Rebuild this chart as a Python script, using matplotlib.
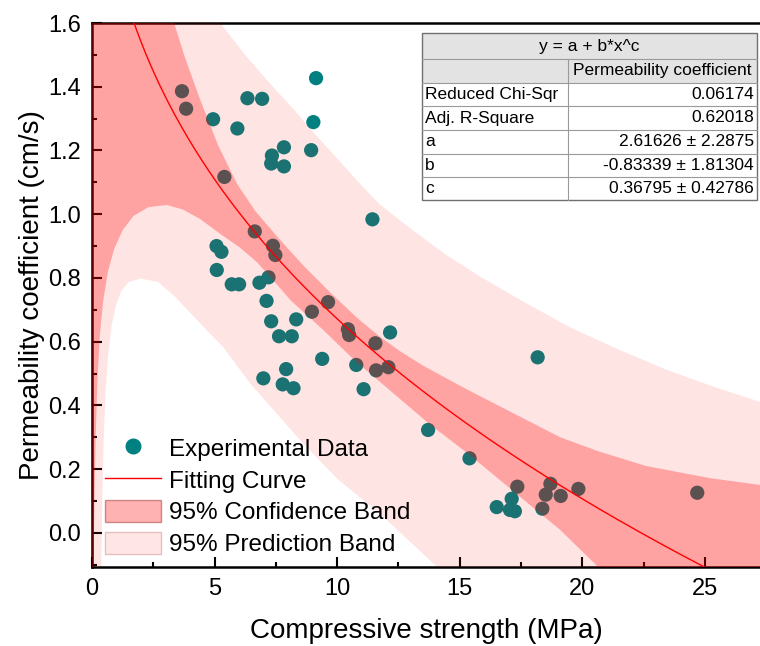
import numpy as np
import matplotlib
matplotlib.use("Agg")
import matplotlib.pyplot as plt
from matplotlib.patches import Patch, Rectangle
from matplotlib.lines import Line2D

plt.rcParams['font.family'] = ['Liberation Sans', 'DejaVu Sans']

# measured points (compressive strength MPa, permeability cm/s)
strength = [3.67, 3.84, 4.94, 6.34, 6.94, 9.14, 9.03, 5.93, 7.83, 7.34, 7.31, 7.83, 8.94,
            5.40, 11.44, 6.64, 7.38, 7.48, 5.08, 5.28, 5.09, 5.70, 6.00, 6.83, 7.20, 7.12,
            9.63, 8.97, 7.31, 8.33, 10.44, 10.49, 7.63, 8.15, 11.56, 9.39, 10.78, 7.92,
            6.99, 7.78, 8.22, 11.08, 11.59, 12.09, 12.16, 18.18, 13.71, 15.40, 17.35,
            18.70, 18.51, 19.12, 19.84, 18.37, 16.51, 17.12, 17.05, 17.25, 24.69]
perm = [1.386, 1.331, 1.298, 1.364, 1.362, 1.427, 1.289, 1.269, 1.210, 1.184, 1.159, 1.150, 1.201,
        1.117, 0.984, 0.946, 0.901, 0.872, 0.900, 0.882, 0.825, 0.780, 0.780, 0.785, 0.802, 0.728,
        0.724, 0.694, 0.664, 0.670, 0.639, 0.621, 0.617, 0.617, 0.595, 0.546, 0.527, 0.514,
        0.485, 0.466, 0.454, 0.451, 0.510, 0.520, 0.629, 0.551, 0.323, 0.234, 0.145,
        0.154, 0.120, 0.116, 0.138, 0.076, 0.081, 0.107, 0.072, 0.068, 0.126]

# fit parameters from the table
a, b, c = 2.61626, -0.83339, 0.36795

# band edges
conf_hi_x = [0.0, 2.0, 3.35, 3.8, 4.41, 5.15, 5.92, 6.66, 7.55, 8.61, 9.71, 10.81, 11.75,
             12.57, 13.5, 15.3, 17.2, 19.1, 20.7, 22.6, 25.2, 27.3]
conf_hi_y = [3.0, 2.0, 1.60, 1.49, 1.36, 1.215, 1.095, 1.01, 0.93, 0.84, 0.755, 0.675, 0.615,
             0.57, 0.525, 0.45, 0.375, 0.30, 0.255, 0.21, 0.172, 0.15]
conf_lo_x = [0.06, 0.10, 0.15, 0.22, 0.32, 0.46, 0.65, 0.9, 1.25, 1.7, 2.3, 3.05, 3.7, 4.41,
             5.2, 6.04, 6.72, 7.2, 8.1, 9.43, 10.8, 11.35, 12.57, 13.71, 15.4, 17.2, 19.09,
             20.65, 24.0, 27.3]
conf_lo_y = [-0.107, 0.1, 0.3, 0.48, 0.62, 0.73, 0.82, 0.89, 0.95, 0.995, 1.022, 1.029, 1.015,
             0.985, 0.94, 0.895, 0.85, 0.81, 0.73, 0.637, 0.535, 0.50, 0.42, 0.345, 0.245, 0.13,
             0.01, -0.107, -0.35, -0.6]
pred_hi_x = [0.0, 3.5, 5.23, 6.25, 7.2, 8.22, 9.0, 10.12, 11.0, 11.75, 13.0, 14.4, 15.8, 17.5,
             19.5, 21.5, 23.5, 25.5, 27.3]
pred_hi_y = [3.0, 1.9, 1.60, 1.50, 1.415, 1.33, 1.26, 1.165, 1.09, 1.03, 0.955, 0.875, 0.806, 0.73,
             0.645, 0.575, 0.51, 0.455, 0.41]
pred_lo_x = [0.36, 0.38, 0.42, 0.48, 0.56, 0.66, 0.8, 0.98, 1.2, 1.5, 2.0, 2.7, 3.4, 4.69, 5.35,
             6.45, 8.5, 10.0, 11.75, 14.08, 16.0, 27.3]
pred_lo_y = [-0.3, -0.107, 0.1, 0.3, 0.45, 0.56, 0.65, 0.715, 0.76, 0.787, 0.798, 0.787, 0.74,
             0.635, 0.583, 0.469, 0.29, 0.17, 0.06, -0.107, -0.25, -1.0]

teal = '#008080'

fig = plt.figure(figsize=(7.6, 6.46), dpi=100)
ax = fig.add_axes([92/760, 1-567/646, 668/760, 544/646])

ax.scatter(strength, perm, s=105, color=teal, edgecolors='none', zorder=2)

# prediction band
px = pred_hi_x + pred_lo_x[::-1] + [0.0]
py = pred_hi_y + pred_lo_y[::-1] + [-0.5]
ax.fill(px, py, color='red', alpha=0.105, lw=0, zorder=3)
# confidence band
cx = conf_hi_x + conf_lo_x[::-1] + [0.0]
cy = conf_hi_y + conf_lo_y[::-1] + [-0.5]
ax.fill(cx, cy, color='red', alpha=0.285, lw=0, zorder=3.1)

xf = np.linspace(0.05, 27.3, 400)
ax.plot(xf, a + b*xf**c, color='red', lw=1, zorder=4)

ax.set_xlim(0, 27.25)
ax.set_ylim(-0.107, 1.6)
ax.set_xticks([0, 5, 10, 15, 20, 25])
ax.set_xticks(np.arange(2.5, 27.3, 5), minor=True)
ax.set_yticks(np.arange(0, 1.61, 0.2))
ax.set_yticks([-0.1, 0.1, 0.3, 0.5, 0.7, 0.9, 1.1, 1.3, 1.5], minor=True)
ax.set_yticklabels(['%.1f' % v for v in np.arange(0, 1.61, 0.2)])
ax.tick_params(which='both', direction='in', width=1.5, labelsize=17, pad=8)
ax.tick_params(which='major', length=7)
ax.tick_params(which='minor', length=3.6)
ax.spines['right'].set_visible(False)
for s in ['left', 'bottom', 'top']:
    ax.spines[s].set_linewidth(1.8)

ax.set_xlabel('Compressive strength (MPa)', fontsize=20, labelpad=13)
ax.set_ylabel('Permeability coefficient (cm/s)', fontsize=20, labelpad=2)

handles = [Line2D([], [], marker='o', color=teal, ls='none', markersize=10.5),
           Line2D([], [], color='red', lw=1),
           Patch(facecolor=(1, 0, 0, 0.3), edgecolor=(0.6, 0.2, 0.2, 0.5)),
           Patch(facecolor=(1, 0, 0, 0.1), edgecolor=(0.9, 0.75, 0.75))]
labels = ['Experimental Data', 'Fitting Curve', '95% Confidence Band', '95% Prediction Band']
ax.legend(handles, labels, loc='lower left', bbox_to_anchor=(0.012, 0.011), frameon=False,
          fontsize=17.5, borderpad=0.2, borderaxespad=0, handlelength=2.3, handleheight=1.0,
          handletextpad=0.35, labelspacing=0.31, numpoints=1)

# fit summary table
tab_title = 'y = a + b*x^c'
tab_head = 'Permeability coefficient'
tab_rows = ['Reduced Chi-Sqr', 'Adj. R-Square', 'a', 'b', 'c']
tab_vals = ['0.06174', '0.62018', '2.61626 ± 2.2875', '-0.83339 ± 1.81304', '0.36795 ± 0.42786']

tb = fig.add_axes([0, 0, 1, 1], zorder=10)
tb.set_xlim(0, 760)
tb.set_ylim(646, 0)
tb.axis('off')
x0, xm, x1 = 422, 568, 757
rows_y = [33, 59, 83, 106, 130, 154, 177, 200]
grey = '#e3e3e3'
line = '#9a9a9a'
tb.add_patch(Rectangle((x0, rows_y[0]), x1-x0, rows_y[2]-rows_y[0], facecolor=grey, edgecolor='none'))
tb.add_patch(Rectangle((x0, rows_y[2]), x1-x0, rows_y[-1]-rows_y[2], facecolor='white', edgecolor='none'))
for yy in rows_y[1:-1]:
    tb.plot([x0, x1], [yy, yy], color=line, lw=0.8)
tb.plot([xm, xm], [rows_y[1], rows_y[-1]], color=line, lw=0.8)
tb.add_patch(Rectangle((x0, rows_y[0]), x1-x0, rows_y[-1]-rows_y[0], facecolor='none', edgecolor='#707070', lw=1))
fs = 12.5
tb.text((x0+x1)/2, (rows_y[0]+rows_y[1])/2, tab_title, ha='center', va='center', fontsize=fs)
tb.text((xm+x1)/2, (rows_y[1]+rows_y[2])/2, tab_head, ha='center', va='center', fontsize=fs)
for i in range(len(tab_rows)):
    ym = (rows_y[i+2]+rows_y[i+3])/2
    tb.text(x0+3, ym, tab_rows[i], ha='left', va='center', fontsize=fs)
    tb.text(x1-3, ym, tab_vals[i], ha='right', va='center', fontsize=fs)

fig.savefig('out.png', dpi=100)
